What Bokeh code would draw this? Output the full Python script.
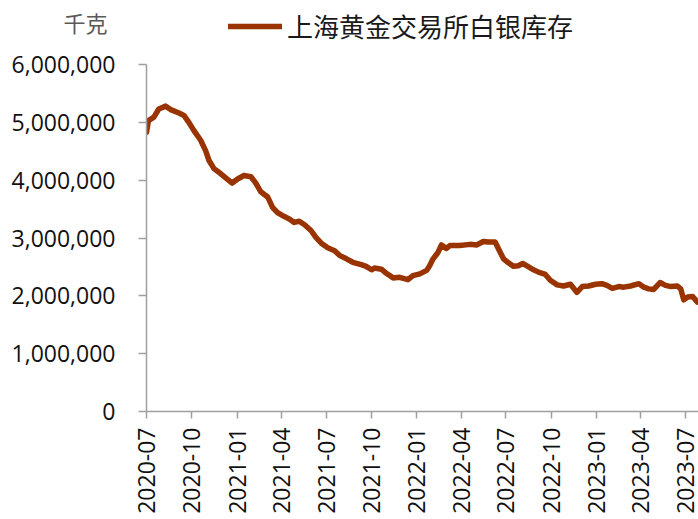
from datetime import datetime
import math
from bokeh.plotting import figure
from bokeh.layouts import column
from bokeh.models import (Range1d, FixedTicker, DatetimeTickFormatter, NumeralTickFormatter,
                          Legend, LegendItem, ColumnDataSource)
from bokeh.embed import file_html
from bokeh.resources import INLINE

# ---- data ----
dates = [
    "2020-07-01", "2020-07-05", "2020-07-16", "2020-07-26", "2020-08-09", "2020-08-19",
    "2020-09-05", "2020-09-15", "2020-09-25", "2020-10-05", "2020-10-19", "2020-10-29",
    "2020-11-05", "2020-11-15", "2020-11-29", "2020-12-12", "2020-12-22", "2021-01-02",
    "2021-01-15", "2021-01-29", "2021-02-08", "2021-02-18", "2021-03-04", "2021-03-14",
    "2021-03-24", "2021-04-07", "2021-04-17", "2021-04-27", "2021-05-07", "2021-05-18",
    "2021-05-31", "2021-06-10", "2021-06-21", "2021-07-04", "2021-07-18", "2021-07-28",
    "2021-08-11", "2021-08-24", "2021-09-10", "2021-09-20", "2021-10-01", "2021-10-07",
    "2021-10-21", "2021-10-31", "2021-11-14", "2021-11-27", "2021-12-14", "2021-12-24",
    "2022-01-07", "2022-01-21", "2022-01-27", "2022-02-03", "2022-02-13", "2022-02-20",
    "2022-03-02", "2022-03-09", "2022-03-29", "2022-04-19", "2022-05-03", "2022-05-16",
    "2022-05-26", "2022-06-09", "2022-06-16", "2022-06-26", "2022-07-06", "2022-07-16",
    "2022-07-26", "2022-08-04", "2022-08-16", "2022-08-26", "2022-09-05", "2022-09-19",
    "2022-09-29", "2022-10-13", "2022-10-26", "2022-11-09", "2022-11-22", "2022-12-03",
    "2022-12-16", "2022-12-30", "2023-01-12", "2023-01-22", "2023-02-02", "2023-02-15",
    "2023-02-25", "2023-03-11", "2023-03-28", "2023-04-07", "2023-04-17", "2023-04-27",
    "2023-05-10", "2023-05-21", "2023-06-01", "2023-06-14", "2023-06-21", "2023-06-27",
    "2023-07-05", "2023-07-15", "2023-07-25",
]
stock_kg = [
    4830000, 5030000, 5090000, 5230000, 5280000, 5220000,
    5160000, 5120000, 5000000, 4860000, 4690000, 4510000,
    4340000, 4200000, 4110000, 4020000, 3950000, 4020000,
    4080000, 4060000, 3950000, 3800000, 3710000, 3530000,
    3440000, 3370000, 3330000, 3270000, 3290000, 3230000,
    3130000, 3010000, 2910000, 2830000, 2780000, 2700000,
    2640000, 2580000, 2540000, 2510000, 2450000, 2480000,
    2460000, 2390000, 2310000, 2320000, 2280000, 2350000,
    2380000, 2440000, 2520000, 2640000, 2750000, 2880000,
    2820000, 2870000, 2870000, 2890000, 2880000, 2940000,
    2930000, 2930000, 2810000, 2640000, 2570000, 2510000,
    2520000, 2560000, 2500000, 2450000, 2410000, 2370000,
    2270000, 2190000, 2170000, 2200000, 2060000, 2160000,
    2170000, 2200000, 2210000, 2180000, 2130000, 2160000,
    2150000, 2170000, 2210000, 2150000, 2120000, 2110000,
    2230000, 2180000, 2160000, 2170000, 2120000, 1930000,
    1980000, 1990000, 1890000,
]
x_tick_labels = ["2020-07", "2020-10", "2021-01", "2021-04", "2021-07", "2021-10", "2022-01",
                 "2022-04", "2022-07", "2022-10", "2023-01", "2023-04", "2023-07"]
y_ticks = [0, 1000000, 2000000, 3000000, 4000000, 5000000, 6000000]
series_name = "上海黄金交易所白银库存"
unit_label = "千克"

x_dates = [datetime.strptime(d, "%Y-%m-%d") for d in dates]
src = ColumnDataSource(dict(x=x_dates, y=stock_kg))

def to_ms(s):
    return (datetime.strptime(s + "-01", "%Y-%m-%d") - datetime(1970, 1, 1)).total_seconds() * 1000

LINE_COLOR = "#993300"
AXIS_COLOR = "#A0A0A0"
TICK_FONT = "Open Sans"
CJK_FONT = "Noto Sans CJK SC"
W = 698
HEAD_H = 48
LEFT = 146
UNIT_Y = HEAD_H - 21   # vertical position of the unit text inside the header strip

# ---- header strip: unit label (left side) and legend ----
head = figure(width=W, height=HEAD_H, output_backend="svg", toolbar_location=None,
              x_range=Range1d(0, 1), y_range=Range1d(0, HEAD_H),
              min_border=0, min_border_left=LEFT, x_axis_location=None, y_axis_location="left")
head.outline_line_color = None
head.grid.visible = False
hy = head.yaxis[0]
hy.ticker = FixedTicker(ticks=[UNIT_Y])
hy.major_label_overrides = {UNIT_Y: unit_label}
hy.axis_line_color = None
hy.major_tick_line_color = None
hy.major_tick_out = 0
hy.major_tick_in = 0
hy.minor_tick_line_color = None
hy.major_label_standoff = 39
hy.major_label_text_font = CJK_FONT
hy.major_label_text_font_size = "22px"
hy.major_label_text_color = "#595959"

key = head.line(x=[float("nan")], y=[float("nan")], line_color=LINE_COLOR, line_width=5.5,
                line_cap="round")
legend = Legend(items=[LegendItem(label=series_name, renderers=[key])],
                location=(228 - LEFT, 4), orientation="horizontal",
                glyph_width=54, glyph_height=26, label_standoff=5,
                padding=0, margin=0, spacing=0,
                label_text_font=CJK_FONT, label_text_font_size="26px",
                label_text_color="#1a1a1a", border_line_color=None,
                background_fill_alpha=0)
head.add_layout(legend, "center")

# ---- main chart ----
p = figure(width=W, height=519 - HEAD_H, x_axis_type="datetime", output_backend="svg",
           toolbar_location=None,
           x_range=Range1d(datetime(2020, 7, 1), datetime(2023, 7, 27)),
           y_range=Range1d(0, 6000000),
           min_border_left=LEFT, min_border_right=0, min_border_top=64 - HEAD_H,
           min_border_bottom=108)
p.outline_line_color = None
p.grid.visible = False

p.line("x", "y", source=src, line_color=LINE_COLOR, line_width=5.5,
       line_join="round", line_cap="round")

ya = p.yaxis[0]
ya.ticker = FixedTicker(ticks=y_ticks)
ya.formatter = NumeralTickFormatter(format="0,0")
ya.axis_line_color = AXIS_COLOR
ya.axis_line_width = 1.5
ya.major_tick_line_color = AXIS_COLOR
ya.major_tick_line_width = 1.5
ya.major_tick_out = 8
ya.major_tick_in = 0
ya.minor_tick_line_color = None
ya.major_label_standoff = 23
ya.major_label_text_font = TICK_FONT
ya.major_label_text_font_size = "23px"
ya.major_label_text_color = "#111111"

xa = p.xaxis[0]
xa.ticker = FixedTicker(ticks=[to_ms(s) for s in x_tick_labels])
fmt = "%Y-%m"
xa.formatter = DatetimeTickFormatter(years=fmt, months=fmt, days=fmt, hours=fmt,
                                     hourmin=fmt, minutes=fmt, minsec=fmt, seconds=fmt,
                                     milliseconds=fmt, microseconds=fmt)
xa.axis_line_color = AXIS_COLOR
xa.axis_line_width = 1.5
xa.major_tick_line_color = AXIS_COLOR
xa.major_tick_line_width = 1.5
xa.major_tick_out = 7
xa.major_tick_in = 0
xa.minor_tick_line_color = None
xa.major_label_orientation = math.pi / 2
xa.major_label_standoff = 9
xa.major_label_text_font = TICK_FONT
xa.major_label_text_font_size = "23px"
xa.major_label_text_color = "#111111"

layout = column(head, p, spacing=0)
open("out.html", "w").write(file_html(layout, INLINE))
